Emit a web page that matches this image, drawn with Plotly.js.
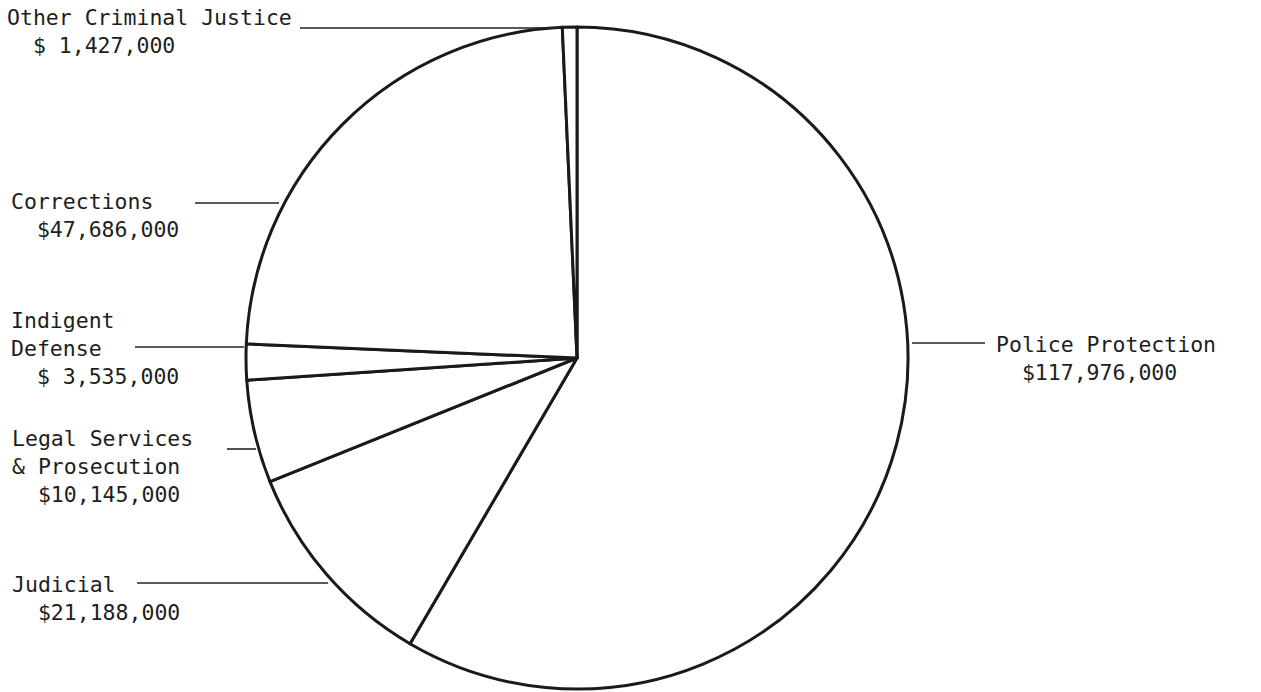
<!DOCTYPE html>
<html>
<head>
<meta charset="utf-8">
<script src="https://cdn.plot.ly/plotly-3.0.1.min.js"></script>
<style>html,body{margin:0;padding:0;background:#fff;}#chart{width:1261px;height:692px;}</style>
</head>
<body>
<div id="chart"></div>
<script>
// Data (clockwise from 12 o'clock)
const categories = ["Police Protection", "Judicial", "Legal Services & Prosecution", "Indigent Defense", "Corrections", "Other Criminal Justice"];
const amounts = [117976000, 21188000, 10145000, 3535000, 47686000, 1427000];
const labelLines = [
  ["Police Protection", "  $117,976,000"],
  ["Judicial", "  $21,188,000"],
  ["Legal Services", "& Prosecution", "  $10,145,000"],
  ["Indigent", "Defense", "  $ 3,535,000"],
  ["Corrections", "  $47,686,000"],
  ["Other Criminal Justice", "  $ 1,427,000"]
];

const W = 1261, H = 692;
const px = x => x / W;
const py = y => 1 - y / H;

// label block placement (pixels): left x, vertical middle y
const labelPos = [
  [994, 358],
  [10, 598],
  [10, 466],
  [9, 348],
  [9, 215],
  [5, 32]
];
// leader lines (pixels): x0, x1, y
const leaders = [
  [912, 985, 343],
  [137, 328, 583],
  [227, 256, 449],
  [135, 244, 347],
  [195, 279, 203],
  [300, 560, 28]
];

const fmt = s => s.replace(/ /g, "\u00A0");

const annotations = labelLines.map((lines, i) => ({
  text: lines.map(fmt).join("<br>"),
  x: px(labelPos[i][0]), y: py(labelPos[i][1]),
  xref: "paper", yref: "paper",
  xanchor: "left", yanchor: "middle", align: "left",
  showarrow: false,
  font: {family: "DejaVu Sans Mono, monospace", size: 21.5, color: "#1e1e1e"}
}));

const shapes = leaders.map(l => ({
  type: "line", xref: "paper", yref: "paper",
  x0: px(l[0]), x1: px(l[1]), y0: py(l[2]), y1: py(l[2]),
  line: {color: "#222", width: 1.6}
}));

const cx = 577, cy = 358, r = 331;
const trace = {
  type: "pie",
  labels: categories,
  values: amounts,
  sort: false,
  direction: "clockwise",
  rotation: 0,
  textinfo: "none",
  hoverinfo: "label+value",
  showlegend: false,
  marker: {colors: categories.map(() => "#ffffff"), line: {color: "#1a1a1a", width: 3}},
  domain: {x: [px(cx - r), px(cx + r)], y: [py(cy + r), py(cy - r)]}
};

Plotly.newPlot("chart", [trace], {
  width: W, height: H,
  margin: {l: 0, r: 0, t: 0, b: 0},
  paper_bgcolor: "#ffffff",
  showlegend: false,
  annotations: annotations,
  shapes: shapes
}, {displayModeBar: false, staticPlot: true});
</script>
</body>
</html>
